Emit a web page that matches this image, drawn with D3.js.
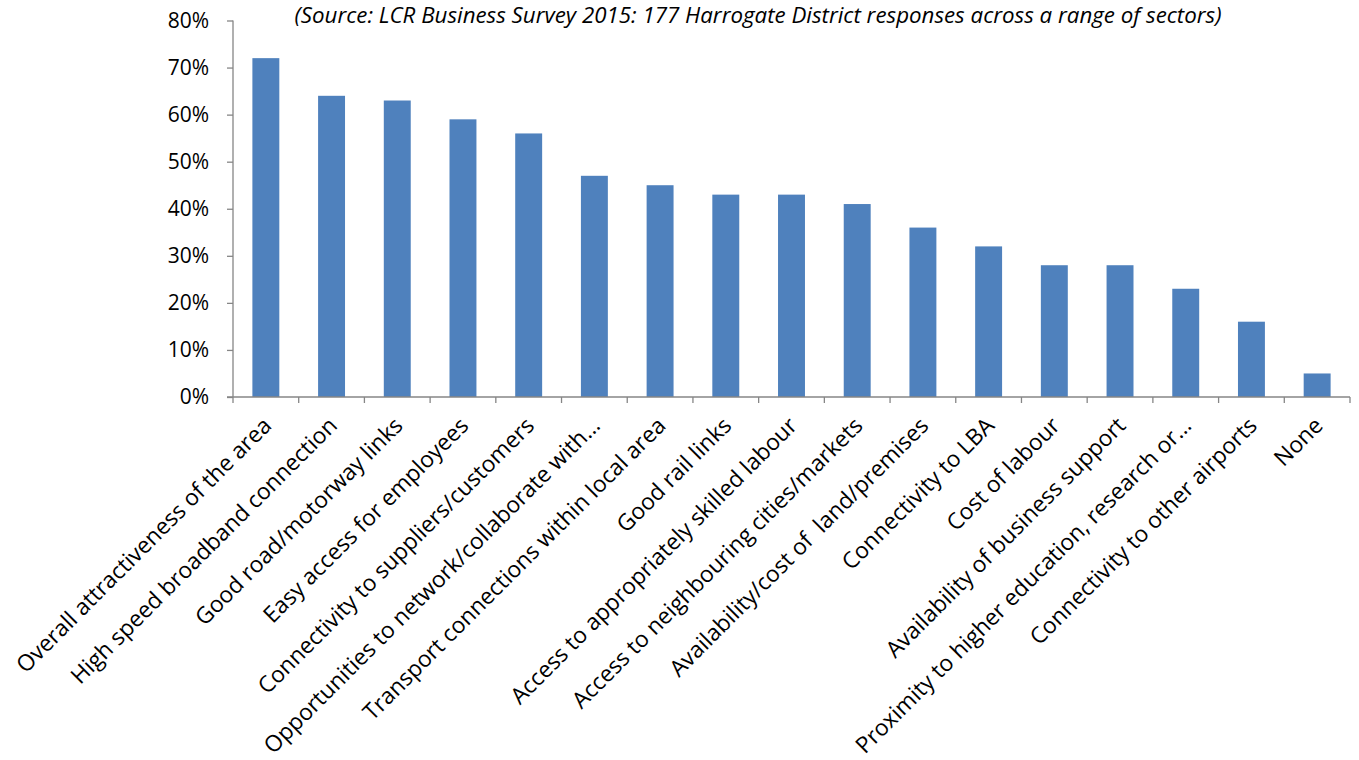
<!DOCTYPE html>
<html>
<head>
<meta charset="utf-8">
<script src="https://cdn.jsdelivr.net/npm/d3@7"></script>
<style>
  body { margin: 0; background: #fff; }
  text { font-family: "Open Sans", sans-serif; fill: #000; }
</style>
</head>
<body>
<div id="chart"></div>
<script>
var categories = [
  "Overall attractiveness of the area",
  "High speed broadband connection",
  "Good road/motorway links",
  "Easy access for employees",
  "Connectivity to suppliers/customers",
  "Opportunities to network/collaborate with\u2026",
  "Transport connections within local area",
  "Good rail links",
  "Access to appropriately skilled labour",
  "Access to neighbouring cities/markets",
  "Availability/cost of  land/premises",
  "Connectivity to LBA",
  "Cost of labour",
  "Availability of business support",
  "Proximity to higher education, research or\u2026",
  "Connectivity to other airports",
  "None"
];
var values = [72, 64, 63, 59, 56, 47, 45, 43, 43, 41, 36, 32, 28, 28, 23, 16, 5];
var yTicks = [0, 10, 20, 30, 40, 50, 60, 70, 80];
var title = "(Source: LCR Business Survey 2015: 177 Harrogate District responses across a range of sectors)";

var W = 1359, H = 760;
var mLeft = 233, mRight = 1350, mTop = 20.5, mBottom = 397;

var svg = d3.select("#chart").append("svg")
  .attr("width", W).attr("height", H);

var x = d3.scaleBand().domain(categories).range([mLeft, mRight]).paddingInner(0.59).paddingOuter(0.295);
var y = d3.scaleLinear().domain([0, 80]).range([mBottom, mTop]);

svg.append("g").selectAll("rect").data(values).enter()
  .append("rect")
  .attr("x", function(d, i) { return x(categories[i]); })
  .attr("y", function(d) { return y(d); })
  .attr("width", x.bandwidth())
  .attr("height", function(d) { return y(0) - y(d); })
  .attr("fill", "#4F81BD");

// y axis
var yAxis = svg.append("g")
  .attr("transform", "translate(" + mLeft + ",0)")
  .call(d3.axisLeft(y).tickValues(yTicks).tickSize(6).tickPadding(18)
    .tickFormat(function(d) { return d + "%"; }));
yAxis.selectAll("path, line").attr("stroke", "#868686").attr("stroke-width", 1.3);
yAxis.select(".domain").attr("d", "M0," + mTop + "V" + mBottom);
yAxis.selectAll("text").style("font-size", "21px").style("font-family", "'Open Sans', sans-serif").attr("fill", "#000");

// x axis, ticks between categories
var step = x.step();
var xAxis = svg.append("g").attr("transform", "translate(0," + mBottom + ")");
xAxis.append("line").attr("x1", mLeft - 6).attr("x2", mRight).attr("stroke", "#868686").attr("stroke-width", 1.3);
xAxis.selectAll("line.tk").data(d3.range(categories.length + 1)).enter()
  .append("line").attr("class", "tk")
  .attr("x1", function(i) { return mLeft + i * step; })
  .attr("x2", function(i) { return mLeft + i * step; })
  .attr("y1", 0).attr("y2", 6)
  .attr("stroke", "#868686").attr("stroke-width", 1.3);

xAxis.selectAll("text").data(categories).enter()
  .append("text")
  .attr("text-anchor", "end")
  .attr("transform", function(d) {
    var cx = x(d) + x.bandwidth() / 2 + 7;
    return "translate(" + cx + ",30) rotate(-45)";
  })
  .style("font-size", "22.7px")
  .style("white-space", "pre")
  .text(function(d) { return d; });

svg.append("text")
  .attr("x", 758).attr("y", 23)
  .attr("text-anchor", "middle")
  .style("font-size", "22.3px")
  .style("font-style", "italic")
  .text(title);
</script>
</body>
</html>
